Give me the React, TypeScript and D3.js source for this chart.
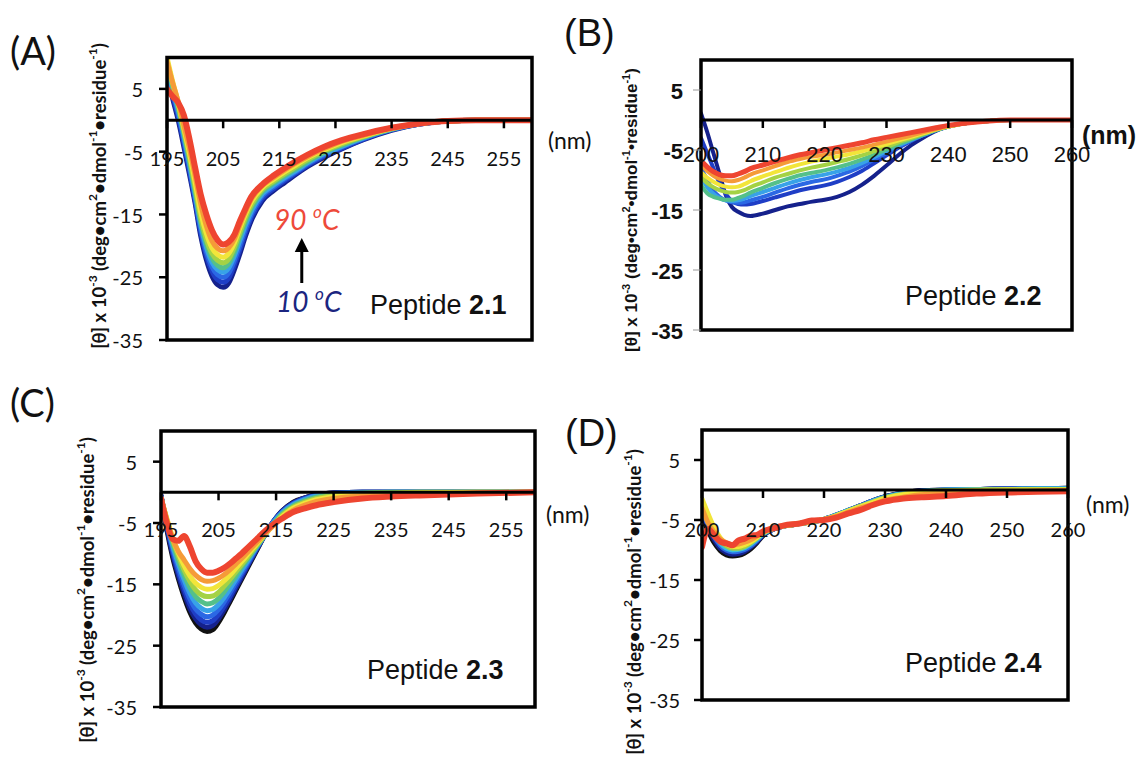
import React from "react";
import * as d3 from "d3";

// CD spectra, [θ] x 10^-3, one row per temperature (10 °C → 90 °C)

const wlA = [195, 196, 197, 198, 199, 200, 201, 202, 203, 204, 205, 206, 207, 208, 209, 210, 212, 214, 216, 218, 220, 223, 226, 230, 235, 240, 245, 250, 260];
const thetaA = [
  [7.5, 3.5, 0, -4.2, -8.6, -13.2, -18.4, -22.2, -24.8, -26.2, -26.6, -25.9, -23.8, -21.2, -18.4, -16, -12.8, -11.2, -9.9, -8.6, -7.4, -5.9, -4.6, -3.1, -1.6, -0.6, -0.1, 0, 0],
  [8, 4, 0.6, -3.6, -8, -12.7, -17.8, -21.5, -24, -25.4, -25.8, -25.1, -23, -20.5, -17.8, -15.5, -12.4, -10.9, -9.6, -8.4, -7.2, -5.7, -4.5, -3, -1.5, -0.6, -0.1, 0, 0],
  [8.5, 4.5, 1.1, -3, -7.4, -12.2, -17.2, -20.9, -23.3, -24.6, -25, -24.3, -22.3, -19.8, -17.2, -15, -12, -10.6, -9.3, -8.2, -7, -5.5, -4.3, -2.9, -1.5, -0.6, -0.1, 0, 0],
  [9, 5, 1.6, -2.5, -6.9, -11.7, -16.6, -20.2, -22.6, -23.8, -24.2, -23.5, -21.6, -19.1, -16.6, -14.5, -11.7, -10.3, -9.1, -8, -6.8, -5.3, -4.2, -2.8, -1.4, -0.5, -0.1, 0, 0],
  [9.3, 5.4, 2, -2, -6.4, -11.2, -16.1, -19.6, -21.9, -23.1, -23.5, -22.8, -20.9, -18.4, -16, -14, -11.3, -10, -8.8, -7.7, -6.6, -5.1, -4, -2.7, -1.4, -0.5, -0.1, 0, 0],
  [9.6, 5.8, 2.4, -1.6, -5.8, -10.6, -15.5, -18.9, -21.2, -22.3, -22.7, -22.1, -20.2, -17.8, -15.4, -13.5, -11, -9.7, -8.5, -7.4, -6.3, -4.9, -3.8, -2.6, -1.3, -0.5, -0.1, 0, 0],
  [10, 6.2, 2.8, -1.2, -5.2, -9.8, -14.6, -18, -20.3, -21.4, -21.8, -21.2, -19.5, -17.1, -14.9, -13, -10.7, -9.4, -8.2, -7.1, -6, -4.7, -3.6, -2.5, -1.3, -0.5, -0.1, 0, 0],
  [9.4, 6, 3, -0.8, -4.5, -8.8, -13.3, -16.8, -19.2, -20.4, -20.8, -20.3, -18.9, -16.6, -14.5, -12.6, -10.4, -9.1, -7.9, -6.8, -5.8, -4.5, -3.4, -2.4, -1.2, -0.5, -0.1, 0, 0],
  [5, 3.8, 2.8, 0.8, -3, -7.5, -11.8, -15, -17.5, -19.1, -19.8, -19.4, -18.2, -16, -14, -12.2, -10.2, -8.8, -7.6, -6.5, -5.5, -4.2, -3.2, -2.2, -1.2, -0.5, -0.1, 0, 0],
];

const wlB = [200, 201, 202, 203, 204, 205, 206, 207, 208, 210, 212, 214, 216, 218, 220, 222, 224, 226, 228, 230, 232, 234, 236, 238, 240, 243, 246, 250, 255, 260];
const thetaB = [
  [1.1, -2, -5.5, -9, -12.5, -14.5, -15.3, -15.8, -16, -15.6, -15, -14.4, -14, -13.6, -13.3, -12.8, -12, -10.8, -9.3, -7.6, -5.8, -4.2, -2.9, -1.8, -1.1, -0.5, -0.2, 0, 0, 0],
  [-3, -5.5, -8, -10.5, -12.3, -13.5, -14, -14.1, -14, -13.5, -12.9, -12.3, -11.7, -11.3, -10.9, -10.3, -9.5, -8.5, -7.2, -5.9, -4.6, -3.5, -2.5, -1.7, -1.1, -0.5, -0.2, 0, 0, 0],
  [-8, -10, -11.8, -12.8, -13.4, -13.7, -13.8, -13.7, -13.4, -12.8, -12.1, -11.4, -10.8, -10.3, -9.9, -9.3, -8.6, -7.7, -6.6, -5.5, -4.4, -3.4, -2.5, -1.7, -1.1, -0.5, -0.2, 0, 0, 0],
  [-9.5, -11.2, -12.3, -13, -13.4, -13.5, -13.4, -13.1, -12.7, -12, -11.3, -10.6, -10, -9.5, -9.1, -8.6, -8, -7.2, -6.2, -5.2, -4.2, -3.3, -2.5, -1.7, -1.1, -0.5, -0.2, 0, 0, 0],
  [-10.8, -12.2, -12.8, -13.1, -13.3, -13.3, -13, -12.6, -12.1, -11.3, -10.5, -9.8, -9.2, -8.8, -8.4, -7.9, -7.3, -6.6, -5.8, -4.9, -4, -3.2, -2.4, -1.7, -1.1, -0.5, -0.2, 0, 0, 0],
  [-9.5, -10.5, -11.2, -11.7, -12, -12.1, -12, -11.7, -11.2, -10.4, -9.6, -9, -8.4, -7.9, -7.5, -7, -6.5, -5.9, -5.2, -4.5, -3.7, -3, -2.3, -1.6, -1.1, -0.5, -0.2, 0, 0, 0],
  [-8.7, -9.6, -10.3, -10.8, -11.1, -11.2, -11.1, -10.7, -10.2, -9.4, -8.7, -8, -7.4, -6.9, -6.5, -6.1, -5.7, -5.2, -4.6, -4, -3.4, -2.8, -2.2, -1.6, -1.1, -0.5, -0.2, 0, 0, 0],
  [-7.5, -8.5, -9.3, -9.8, -10.1, -10.2, -10, -9.6, -9.1, -8.4, -7.7, -7, -6.5, -6.1, -5.8, -5.4, -5, -4.6, -4.1, -3.6, -3.1, -2.6, -2, -1.5, -1, -0.5, -0.2, 0, 0, 0],
  [-6.8, -7.8, -8.6, -9.1, -9.3, -9.3, -9, -8.6, -8.1, -7.5, -6.9, -6.3, -5.8, -5.4, -5, -4.6, -4.2, -3.8, -3.3, -2.9, -2.5, -2.1, -1.7, -1.3, -0.9, -0.5, -0.2, 0, 0, 0],
];

const wlC = [195, 196, 197, 198, 199, 200, 201, 202, 203, 204, 205, 206, 207, 208, 209, 210, 211, 212, 213, 214, 215, 216, 218, 220, 222, 225, 230, 235, 240, 250, 260];
const thetaC = [
  [-0.5, -6, -10.5, -14, -17, -19.5, -21.3, -22.3, -22.7, -22.4, -21.2, -19.6, -17.8, -16, -14.2, -12.4, -10.6, -8.8, -7, -5.5, -4.2, -3.1, -1.6, -0.9, -0.4, -0.1, 0, 0, 0, 0, 0],
  [-0.5, -5.6, -10, -13.5, -16.4, -18.9, -20.6, -21.6, -22, -21.7, -20.6, -19.1, -17.4, -15.6, -13.9, -12.1, -10.4, -8.7, -7, -5.5, -4.2, -3.1, -1.7, -0.9, -0.4, -0.1, 0, 0, 0, 0, 0],
  [-0.6, -5.3, -9.5, -12.9, -15.7, -18.1, -19.8, -20.8, -21.2, -20.9, -19.9, -18.5, -16.9, -15.2, -13.5, -11.9, -10.2, -8.6, -7, -5.5, -4.2, -3.2, -1.8, -1, -0.5, -0.1, 0, 0, 0, 0, 0],
  [-0.7, -5, -9, -12.3, -15, -17.3, -19, -19.9, -20.3, -20, -19.1, -17.8, -16.3, -14.7, -13.1, -11.6, -10, -8.5, -7, -5.5, -4.3, -3.3, -1.9, -1.1, -0.5, -0.2, 0, 0, 0, 0, 0],
  [-0.8, -4.8, -8.6, -11.6, -14.2, -16.4, -18, -18.9, -19.3, -19.1, -18.3, -17.1, -15.7, -14.2, -12.7, -11.3, -9.8, -8.4, -7, -5.6, -4.4, -3.4, -2, -1.2, -0.6, -0.2, -0.1, 0, 0, 0, 0],
  [-0.9, -4.6, -8.1, -11, -13.4, -15.5, -17, -17.8, -18.2, -18, -17.3, -16.2, -14.9, -13.6, -12.2, -10.9, -9.6, -8.3, -7, -5.7, -4.6, -3.6, -2.2, -1.4, -0.8, -0.3, -0.1, 0, 0, 0, 0],
  [-0.9, -4.4, -7.7, -10.3, -12.6, -14.5, -15.9, -16.7, -17, -16.9, -16.3, -15.3, -14.2, -13, -11.8, -10.6, -9.4, -8.2, -7, -5.8, -4.8, -3.8, -2.4, -1.6, -1, -0.5, -0.2, -0.1, 0, 0, 0],
  [-1, -4.2, -7.3, -9.8, -11.9, -13.6, -14.8, -15.5, -15.8, -15.7, -15.2, -14.4, -13.5, -12.4, -11.3, -10.2, -9.1, -8, -6.9, -5.9, -4.9, -4, -2.6, -1.8, -1.2, -0.7, -0.3, -0.2, -0.1, 0, 0],
  [-1, -4.4, -7.5, -9.6, -11, -12.4, -13.5, -14.2, -14.5, -14.4, -14, -13.4, -12.6, -11.7, -10.8, -9.8, -8.8, -7.8, -6.8, -5.9, -5, -4.2, -2.9, -2.1, -1.5, -1, -0.6, -0.4, -0.3, -0.1, 0],
  [-1, -5, -7.6, -7.9, -7.1, -8.8, -11.2, -12.5, -13.1, -13.1, -12.8, -12.3, -11.6, -10.8, -10, -9.1, -8.2, -7.3, -6.4, -5.6, -4.9, -4.3, -3.2, -2.6, -2.1, -1.6, -1, -0.7, -0.5, -0.2, 0],
];

const wlD = [200, 201, 202, 203, 204, 205, 206, 207, 208, 209, 210, 212, 214, 216, 218, 220, 222, 224, 226, 228, 230, 233, 236, 240, 245, 250, 255, 260];
const thetaD = [
  [-4.5, -6.8, -8.8, -10.1, -10.8, -11, -10.9, -10.5, -9.8, -8.8, -7.6, -6.4, -5.9, -5.6, -5.3, -4.9, -4.2, -3.4, -2.6, -1.8, -1.1, -0.5, -0.1, 0, 0.1, 0.2, 0.2, 0.3],
  [-4, -6.3, -8.3, -9.7, -10.4, -10.7, -10.6, -10.2, -9.5, -8.6, -7.5, -6.4, -5.9, -5.6, -5.3, -4.9, -4.2, -3.4, -2.6, -1.8, -1.1, -0.5, -0.1, 0, 0.1, 0.2, 0.2, 0.3],
  [-3.5, -5.8, -7.8, -9.2, -10, -10.3, -10.2, -9.9, -9.3, -8.4, -7.4, -6.4, -5.9, -5.6, -5.3, -4.9, -4.2, -3.4, -2.6, -1.8, -1.2, -0.6, -0.2, 0, 0.1, 0.2, 0.2, 0.2],
  [-3, -5.3, -7.3, -8.8, -9.7, -10, -9.9, -9.6, -9, -8.2, -7.3, -6.3, -5.9, -5.6, -5.3, -4.9, -4.2, -3.4, -2.7, -1.9, -1.2, -0.6, -0.2, 0, 0.1, 0.1, 0.2, 0.2],
  [-2.5, -4.8, -6.9, -8.4, -9.3, -9.7, -9.7, -9.4, -8.8, -8, -7.2, -6.3, -5.9, -5.6, -5.3, -4.9, -4.3, -3.5, -2.7, -2, -1.3, -0.7, -0.3, -0.1, 0, 0.1, 0.1, 0.1],
  [-1.5, -4, -6.3, -8, -9, -9.4, -9.4, -9.1, -8.6, -7.9, -7.1, -6.3, -5.9, -5.6, -5.3, -4.9, -4.3, -3.5, -2.8, -2.1, -1.4, -0.8, -0.4, -0.2, -0.1, 0, 0, 0],
  [-3, -5.5, -7, -8.2, -8.8, -9.1, -9, -8.7, -8.3, -7.7, -7, -6.2, -5.8, -5.5, -5.2, -4.9, -4.4, -3.7, -3, -2.4, -1.7, -1.2, -0.8, -0.6, -0.4, -0.3, -0.2, -0.2],
  [-9.5, -6.5, -7.6, -8.6, -8.9, -9.2, -8.4, -8.1, -7.6, -7.5, -6.9, -6.3, -5.8, -5.6, -5.1, -5, -4.6, -3.9, -3.3, -2.5, -1.9, -1.4, -1.2, -1, -0.6, -0.4, -0.3, -0.2],
];

const ticksA = [195, 205, 215, 225, 235, 245, 255];
const ticksB = [200, 210, 220, 230, 240, 250, 260];
const ticksTheta = [5, -5, -15, -25, -35];

const colors9 = ["#15218c", "#1f3ec6", "#2b68e4", "#38a2e8", "#54c08a", "#a4d245", "#f2e53a", "#f59b38", "#ee4530"];
const colors10 = ["#111111", ...colors9];
const colors8 = ["#111111", "#15218c", "#2b68e4", "#38bfe0", "#a4d245", "#f2e53a", "#f59b38", "#ee4530"];

const calibri = "Lato, 'Open Sans', sans-serif";
const helv = "'Liberation Sans', Arial, sans-serif";

type Panel = {
  letter: string; lx: number; ly: number; letterFont: string; letterSize: number;
  wl: number[]; rows: number[][]; colors: string[]; xDomain: [number, number]; xTicks: number[];
  left: number; right: number; top: number; bottom: number;
  font: string; tickSize: number; yBold: boolean; labelDy: number; yLabelGap: number; yTickColor: string; yTickW: number;
  nm: { x: number; y: number; bold: boolean; size: number };
  peptide: { x: number; y: number; num: string };
  title: { x: number; y: number; size: number; font: string };
  stroke: number;
};

const panels: Panel[] = [
  {
    letter: "(A)", lx: 10, ly: 55, letterFont: calibri, letterSize: 38,
    wl: wlA, rows: thetaA, colors: colors9, xDomain: [195, 260], xTicks: ticksA,
    left: 167, right: 532, top: 57.5, bottom: 340,
    font: calibri, tickSize: 20, yBold: false, labelDy: 41, yLabelGap: 24, yTickColor: "#000", yTickW: 2.5,
    nm: { x: 548, y: 143, bold: false, size: 23 },
    peptide: { x: 370, y: 307, num: "2.1" },
    title: { x: 101, y: 196, size: 18.5, font: calibri },
    stroke: 5,
  },
  {
    letter: "(B)", lx: 564, ly: 36, letterFont: helv, letterSize: 38,
    wl: wlB, rows: thetaB, colors: colors9, xDomain: [200, 260], xTicks: ticksB,
    left: 701, right: 1072, top: 60, bottom: 330,
    font: helv, tickSize: 22, yBold: true, labelDy: 36, yLabelGap: 18, yTickColor: "#999", yTickW: 1,
    nm: { x: 1082, y: 137, bold: true, size: 25 },
    peptide: { x: 905, y: 298, num: "2.2" },
    title: { x: 633, y: 210, size: 17, font: helv },
    stroke: 4,
  },
  {
    letter: "(C)", lx: 10, ly: 407, letterFont: calibri, letterSize: 38,
    wl: wlC, rows: thetaC, colors: colors10, xDomain: [195, 260], xTicks: ticksA,
    left: 161, right: 535, top: 431, bottom: 707,
    font: calibri, tickSize: 20, yBold: false, labelDy: 40, yLabelGap: 24, yTickColor: "#000", yTickW: 2.5,
    nm: { x: 546, y: 517, bold: false, size: 23 },
    peptide: { x: 367, y: 672, num: "2.3" },
    title: { x: 89, y: 590, size: 18.5, font: calibri },
    stroke: 5,
  },
  {
    letter: "(D)", lx: 565, ly: 436, letterFont: helv, letterSize: 38,
    wl: wlD, rows: thetaD, colors: colors8, xDomain: [200, 260], xTicks: ticksB,
    left: 702, right: 1068, top: 430, bottom: 700,
    font: calibri, tickSize: 20, yBold: false, labelDy: 42, yLabelGap: 22, yTickColor: "#000", yTickW: 2.5,
    nm: { x: 1086, y: 507, bold: false, size: 23 },
    peptide: { x: 905, y: 665, num: "2.4" },
    title: { x: 636, y: 602, size: 18.5, font: calibri },
    stroke: 5,
  },
];

function AxisTitle({ x, y, size, font }: { x: number; y: number; size: number; font: string }) {
  const s = size * 0.65;
  const up = -size * 0.38;
  return (
    <text transform={`translate(${x},${y}) rotate(-90)`} textAnchor="middle" dominantBaseline="middle"
      fontFamily={font} fontWeight="bold" fontSize={size} fill="#111">
      [θ] x 10<tspan dy={up} fontSize={s}>-3</tspan>
      <tspan dy={-up}> (deg•cm</tspan><tspan dy={up} fontSize={s}>2</tspan>
      <tspan dy={-up}>•dmol</tspan><tspan dy={up} fontSize={s}>-1</tspan>
      <tspan dy={-up}>•residue</tspan><tspan dy={up} fontSize={s}>-1</tspan>
      <tspan dy={-up}>)</tspan>
    </text>
  );
}

function CdPanel({ p, id }: { p: Panel; id: number }) {
  const x = d3.scaleLinear().domain(p.xDomain).range([p.left, p.right]);
  const y = d3.scaleLinear().domain([-35, 10]).range([p.bottom, p.top]);
  const line = d3.line<number>().x((_, i) => x(p.wl[i])).y((d) => y(d)).curve(d3.curveMonotoneX);
  const clip = `clip-${id}`;
  return (
    <g>
      <defs>
        <clipPath id={clip}>
          <rect x={p.left} y={p.top} width={p.right - p.left} height={p.bottom - p.top} />
        </clipPath>
      </defs>
      <text x={p.lx} y={p.ly} fontFamily={p.letterFont} fontSize={p.letterSize} dominantBaseline="middle" fill="#111">{p.letter}</text>

      {/* spectra */}
      <g clipPath={`url(#${clip})`}>
        {p.rows.map((r, i) => (
          <path key={i} d={line(r) ?? ""} fill="none" stroke={p.colors[i]}
            strokeWidth={i === p.rows.length - 1 ? p.stroke + 1 : p.stroke} strokeLinejoin="round" strokeLinecap="round" />
        ))}
      </g>

      {/* frame and zero line */}
      <rect x={p.left} y={p.top} width={p.right - p.left} height={p.bottom - p.top} fill="none" stroke="#000" strokeWidth={3.5} />
      <line x1={p.left} x2={p.right} y1={y(0)} y2={y(0)} stroke="#000" strokeWidth={3} />

      {p.xTicks.map((t) => (
        <g key={t}>
          <line x1={x(t)} x2={x(t)} y1={y(0)} y2={y(0) + 8} stroke="#000" strokeWidth={2.5} />
          <text x={x(t)} y={y(0) + p.labelDy} textAnchor="middle" dominantBaseline="middle"
            fontFamily={p.font} fontSize={p.tickSize} fill="#111">{t}</text>
        </g>
      ))}
      {ticksTheta.map((t) => (
        <g key={t}>
          <line x1={p.left - 8} x2={p.left} y1={y(t)} y2={y(t)} stroke={p.yTickColor} strokeWidth={p.yTickW} />
          <text x={p.left - p.yLabelGap} y={y(t) + 3} textAnchor="end" dominantBaseline="middle"
            fontFamily={p.font} fontWeight={p.yBold ? "bold" : "normal"} fontSize={p.tickSize} fill="#111">{t}</text>
        </g>
      ))}

      <text x={p.nm.x} y={p.nm.y} dominantBaseline="middle" fontFamily={p.font === helv ? helv : calibri}
        fontWeight={p.nm.bold ? "bold" : "normal"} fontSize={p.nm.size} fill="#111">(nm)</text>
      <text x={p.peptide.x} y={p.peptide.y} dominantBaseline="middle" fontFamily={helv} fontSize={27} fill="#111">
        Peptide <tspan fontWeight="bold">{p.peptide.num}</tspan>
      </text>
      <AxisTitle {...p.title} />
    </g>
  );
}

export default function App() {
  const a = panels[0];
  const ax = d3.scaleLinear().domain(a.xDomain).range([a.left, a.right]);
  const arrowX = ax(219);
  return (
    <svg width={1144} height={760} style={{ position: "absolute", left: 0, top: 0, background: "#fff" }}>
      {panels.map((p, i) => <CdPanel key={i} p={p} id={i} />)}

      {/* temperature annotation in panel A */}
      <text x={274} y={223} dominantBaseline="middle" fontFamily={calibri} fontStyle="italic" fontSize={28} fill="#ee4a3a">
        90 <tspan dy={-9} fontSize={17}>o</tspan><tspan dy={9}>C</tspan>
      </text>
      <text x={276} y={305} dominantBaseline="middle" fontFamily={calibri} fontStyle="italic" fontSize={28} fill="#1b2580">
        10 <tspan dy={-9} fontSize={17}>o</tspan><tspan dy={9}>C</tspan>
      </text>
      <line x1={arrowX} x2={arrowX} y1={283} y2={248} stroke="#000" strokeWidth={3} />
      <path d={`M${arrowX - 7},${252} L${arrowX},${238} L${arrowX + 7},${252} Z`} fill="#000" />
    </svg>
  );
}
